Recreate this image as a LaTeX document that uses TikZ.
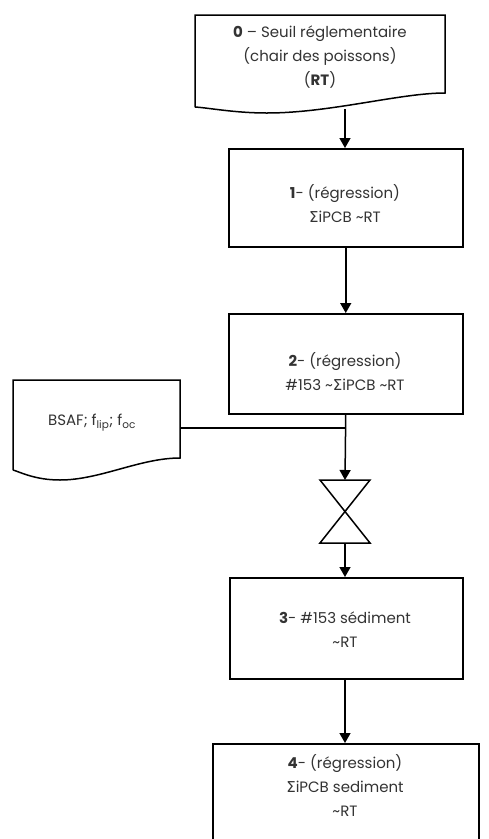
\documentclass[tikz,border=0pt]{standalone}
\usepackage{fontspec}
\setmainfont{Poppins}
\newfontfamily\symf{DejaVu Sans}
\usetikzlibrary{arrows.meta}
\definecolor{txt}{HTML}{333333}
\tikzset{
  shp/.style={draw=black, line width=1.5pt, line join=miter},
  boxnode/.style={draw=black, line width=1.5pt, inner sep=0pt, anchor=north west},
  lbl/.style={text=txt, font=\fontsize{15}{24}\selectfont, align=center, inner sep=0pt},
  arr/.style={line width=1.5pt, -{Triangle[width=11pt,length=10pt]}},
  ln/.style={line width=1.5pt}
}
\newcommand{\Sg}{{\symf Σ}}
\newcommand{\tl}{\textasciitilde}
\begin{document}
\begin{tikzpicture}[x=1pt,y=1pt]
\useasboundingbox (0,0) rectangle (488,-839);
\fill[white] (0,0) rectangle (488,-839);
\begin{scope}
\clip (0,0) rectangle (488,-839);
% document 0
\draw[shp] (195,-107) -- (195,-15) -- (445,-15) -- (445,-93)
  .. controls (400,-93) and (330,-113) .. (267,-113)
  .. controls (235,-113) and (210,-108) .. (195,-107);
\node[lbl] (t0) at (320,-57) {\textbf{0} – Seuil réglementaire\\(chair des poissons)\\(\textbf{RT})};
\coordinate (d0) at (345,-109);
% box 1
\node[boxnode, minimum width=234pt, minimum height=98pt] (b1) at (228,-148) {};
\node[lbl] (t1) at (345,-204) {\textbf{1}- (régression)\\\Sg iPCB \tl RT};
% box 2
\node[boxnode, minimum width=234pt, minimum height=100pt] (b2) at (228,-313) {};
\node[lbl] (t2) at (345,-372) {\textbf{2}- (régression)\\\#153 \tl\Sg iPCB \tl RT};
% BSAF document
\draw[shp] (13,-470) -- (13,-380) -- (180,-380) -- (180,-458)
  .. controls (140,-458) and (100,-480) .. (60,-480)
  .. controls (35,-480) and (20,-472) .. (13,-470);
\node[lbl] (tb) at (92,-423) {BSAF; f\textsubscript{lip}; f\textsubscript{oc}};
\coordinate (bs) at (180,-428);
\coordinate (jn) at (345,-428);
% valve
\draw[shp] (320,-480) -- (370,-480) -- (320,-543) -- (370,-543) -- cycle;
\coordinate (vt) at (345,-480);
\coordinate (vb) at (345,-543);
% box 3
\node[boxnode, minimum width=233pt, minimum height=101pt] (b3) at (229,-577) {};
\node[lbl] (t3) at (345,-630) {\textbf{3}- \#153 sédiment\\\tl RT};
% box 4
\node[boxnode, minimum width=266pt, minimum height=120pt] (b4) at (212,-743) {};
\node[lbl] (t4) at (345,-785) {\textbf{4}- (régression)\\\Sg iPCB sediment\\\tl RT};
% connectors
\draw[arr] (d0) -- (b1.north -| d0);
\draw[arr] (b1.south) -- (b2.north);
\draw[ln] (bs) -- (jn);
\draw[arr] (b2.south) -- (vt);
\draw[arr] (vb) -- (b3.north -| vb);
\draw[arr] (b3.south -| vb) -- (b4.north -| vb);
\end{scope}
\end{tikzpicture}
\end{document}
